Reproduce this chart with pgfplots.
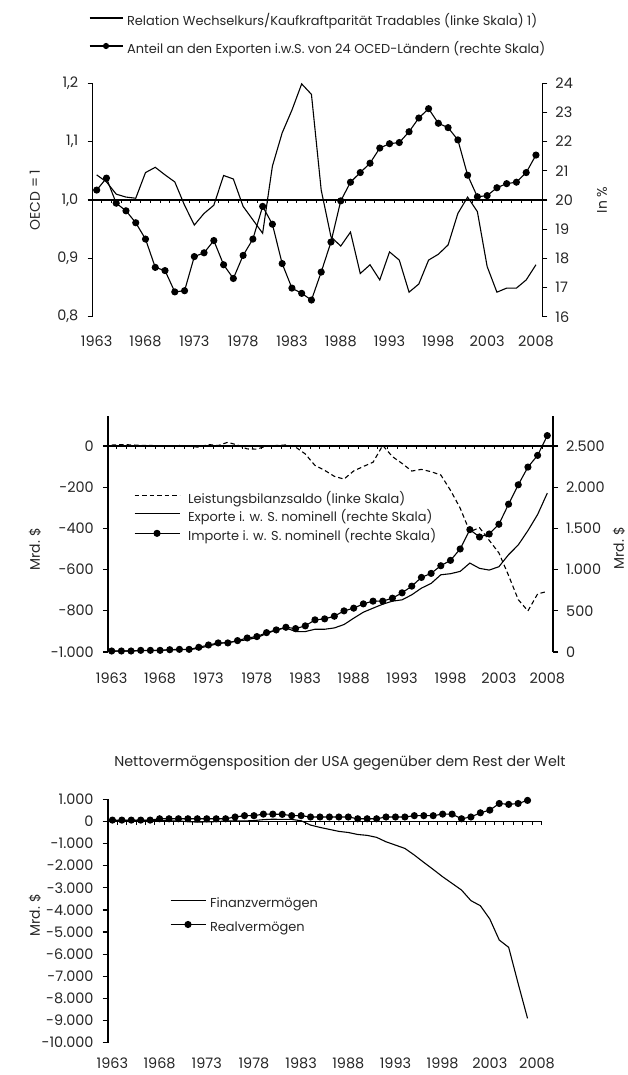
\documentclass[border=0pt]{standalone}
\usepackage{fontspec}
\setmainfont{Poppins}
\usepackage{pgfplots}
\usepackage{pgfplotstable}
\pgfplotsset{compat=1.18}

\pgfplotstableread{
year rel share
1963 1.043 20.34
1964 1.031 20.75
1965 1.010 19.89
1966 1.005 19.63
1967 1.003 19.22
1968 1.047 18.66
1969 1.056 17.69
1970 1.043 17.58
1971 1.031 16.85
1972 0.991 16.89
1973 0.957 18.06
1974 0.977 18.19
1975 0.991 18.61
1976 1.042 17.78
1977 1.036 17.31
1978 0.989 18.10
1979 0.966 18.66
1980 0.943 19.78
1981 1.058 19.17
1982 1.115 17.82
1983 1.154 16.98
1984 1.199 16.80
1985 1.181 16.57
1986 1.017 17.53
1987 0.937 18.56
1988 0.921 19.97
1989 0.945 20.61
1990 0.874 20.94
1991 0.889 21.26
1992 0.863 21.78
1993 0.911 21.93
1994 0.897 21.97
1995 0.842 22.34
1996 0.856 22.81
1997 0.897 23.13
1998 0.907 22.63
1999 0.923 22.48
2000 0.977 22.06
2001 1.005 20.85
2002 0.980 20.11
2003 0.886 20.15
2004 0.842 20.42
2005 0.849 20.56
2006 0.849 20.61
2007 0.863 20.94
2008 0.889 21.54
}\tabA

\pgfplotstableread{
year cab exp imp
1963 4.4 8 12
1964 6.8 12 12
1965 5.4 12 12
1966 3.0 16 20
1967 2.6 16 20
1968 0.6 20 20
1969 0.4 24 28
1970 2.3 28 32
1971 -1.4 28 32
1972 -5.8 45 57
1973 7.1 73 85
1974 2.0 101 110
1975 18.1 118 110
1976 4.3 130 138
1977 -14.3 150 170
1978 -15.1 174 187
1979 -0.3 223 235
1980 2.3 268 268
1981 5.0 292 300
1982 -5.5 248 284
1983 -38.7 248 317
1984 -94.3 276 390
1985 -118.2 276 402
1986 -147.2 292 434
1987 -160.7 333 499
1988 -121.2 410 532
1989 -99.5 483 584
1990 -79.0 532 617
1991 2.9 580 617
1992 -51.6 617 653
1993 -84.8 633 718
1994 -121.6 694 799
1995 -113.6 775 905
1996 -124.8 832 954
1997 -140.7 937 1047
1998 -215.1 950 1112
1999 -301.6 978 1250
2000 -416.3 1079 1485
2001 -396.7 1015 1396
2002 -457.8 994 1432
2003 -519.1 1035 1550
2004 -628.5 1181 1794
2005 -745.8 1299 2029
2006 -800.6 1473 2244
2007 -718.1 1668 2386
2008 -706.0 1928 2626
}\tabB

\pgfplotstableread{
year fin real
1963 30 60
1964 40 60
1965 45 60
1966 40 60
1967 40 60
1968 40 120
1969 30 120
1970 20 120
1971 -10 120
1972 -30 120
1973 -20 120
1974 -10 120
1975 20 120
1976 30 200
1977 20 260
1978 40 260
1979 80 330
1980 100 330
1981 90 320
1982 90 260
1983 30 260
1984 -165 200
1985 -270 200
1986 -360 200
1987 -450 200
1988 -500 200
1989 -590 120
1990 -630 120
1991 -720 120
1992 -920 200
1993 -1070 200
1994 -1220 200
1995 -1520 260
1996 -1850 260
1997 -2170 260
1998 -2500 330
1999 -2800 330
2000 -3100 120
2001 -3580 200
2002 -3810 390
2003 -4410 510
2004 -5360 810
2005 -5690 770
2006 -7320 810
2007 -8900 950
}\tabC

\definecolor{txt}{gray}{0.15}

\pgfplotsset{
  base/.style={
    scale only axis, clip=false, anchor=south west,
    scaled y ticks=false, scaled x ticks=false,
    axis line style={line width=1.6bp, black},
    tick style={line width=1.3bp, black},
    tick align=outside,
    major tick length=5bp,
    ticklabel style={font=\fontsize{14.5}{16}\selectfont, text=txt},
    xtick={1963,1968,...,2008},
    xticklabels={1963,1968,1973,1978,1983,1988,1993,1998,2003,2008},
    xtick style={draw=none},
    xticklabel style={inner sep=0pt, anchor=center},
    legend cell align=left,
  },
  leftax/.style={
    axis x line*=bottom, axis y line*=left, x axis line style={draw=none},
    yticklabel style={inner sep=0pt, xshift=-9bp},
  },
  rightax/.style={
    axis x line=none, axis y line*=right,
    yticklabel style={inner sep=0pt, xshift=8bp},
  },
  dat/.style={black, line width=1.1bp},
  dotdat/.style={black, line width=1.1bp, mark=*, mark size=3bp, mark options={solid, fill=black}},
  leg/.style={legend style={draw=none, fill=none, inner sep=0pt, outer sep=0pt,
     anchor=north west, font=\fontsize{13}{15}\selectfont, text=txt,
     nodes={inner sep=0pt, text height=9bp, text depth=3bp}}},
}

\begin{document}
\begin{tikzpicture}
\path[use as bounding box] (0bp,0bp) rectangle (628bp,1075bp);

% ---------- Panel 1 ----------
\begin{axis}[base, leftax, leg, at={(92.5bp,758.3bp)}, width=449.8bp, height=233.4bp,
  xmin=1962.57, xmax=2008.65, ymin=0.8, ymax=1.2,
  xticklabel style={yshift=-19.5bp},
  ytick={0.8,0.9,1.0,1.1,1.2}, yticklabels={{0,8},{0,9},{1,0},{1,1},{1,2}},
  legend style={at={(-0.0078,1.2862)}, row sep=15bp, column sep=4bp},
  legend image code/.code={\draw[mark repeat=2,mark phase=2,#1] plot coordinates {(0bp,4.5bp) (16.5bp,4.5bp) (33bp,4.5bp)};},
]
\draw[line width=1.6bp] (axis cs:1962.57,1) -- (axis cs:2008.65,1);
\pgfplotsinvokeforeach{1963.5,1964.5,...,2007.5}{\draw[line width=1bp] (axis cs:#1,1) -- ++(0bp,-3.5bp);}
\addplot[dat] table[x=year,y=rel] {\tabA};
\addlegendentry{Relation Wechselkurs/Kaufkraftparität Tradables (linke Skala) 1)}
\addlegendimage{dotdat, mark size=2.5bp}
\addlegendentry{Anteil an den Exporten i.w.S. von 24 OCED-Ländern (rechte Skala)}
\end{axis}
\begin{axis}[base, rightax, at={(92.5bp,758.3bp)}, width=449.8bp, height=233.4bp,
  xmin=1962.57, xmax=2008.65, ymin=16, ymax=24,
  ytick={16,17,...,24}, yticklabels={16,17,18,19,20,21,22,23,24},
]
\addplot[dotdat] table[x=year,y=share] {\tabA};
\end{axis}

% ---------- Panel 2 ----------
\begin{axis}[base, leftax, leg, at={(108bp,423bp)}, width=445bp, height=236bp,
  xmin=1962.62, xmax=2008.59, ymin=-1000, ymax=145.6,
  xticklabel style={yshift=-21bp},
  ytick={-1000,-800,...,0}, yticklabels={-1.000,-800,-600,-400,-200,0},
  legend style={at={(0.0584,0.668)}, row sep=6bp, column sep=8bp},
  legend image code/.code={\draw[mark repeat=2,mark phase=2,#1] plot coordinates {(0bp,4.5bp) (22.5bp,4.5bp) (45bp,4.5bp)};},
]
\draw[line width=1.6bp] (axis cs:1962.62,0) -- (axis cs:2008.59,0);
\pgfplotsinvokeforeach{1963.5,1964.5,...,2007.5}{\draw[line width=1bp] (axis cs:#1,0) -- ++(0bp,-3.5bp);}
\addplot[dat, dash pattern=on 4.5bp off 3bp] table[x=year,y=cab] {\tabB};
\addlegendentry{Leistungsbilanzsaldo (linke Skala)}
\addlegendimage{dat}
\addlegendentry{Exporte i. w. S. nominell (rechte Skala)}
\addlegendimage{dotdat}
\addlegendentry{Importe i. w. S. nominell (rechte Skala)}
\end{axis}
\begin{axis}[base, rightax, at={(108bp,423bp)}, width=445bp, height=236bp,
  xmin=1962.62, xmax=2008.59, ymin=0, ymax=2864,
  ytick={0,500,...,2500}, yticklabels={0,500,1.000,1.500,2.000,2.500},
]
\addplot[dat] table[x=year,y=exp] {\tabB};
\addplot[dotdat] table[x=year,y=imp] {\tabB};
\end{axis}

% ---------- Panel 3 ----------
\begin{axis}[base, leftax, leg, at={(107.7bp,32.3bp)}, width=434bp, height=243.4bp,
  xmin=1962.5, xmax=2008.5, ymin=-10000, ymax=1000,
  xticklabel style={yshift=-15.3bp},
  ytick={-10000,-9000,...,1000},
  yticklabels={-10.000,-9.000,-8.000,-7.000,-6.000,-5.000,-4.000,-3.000,-2.000,-1.000,0,1.000},
  legend style={at={(0.1435,0.5912)}, row sep=10.7bp, column sep=4bp},
  legend image code/.code={\draw[mark repeat=2,mark phase=2,#1] plot coordinates {(0bp,4.5bp) (17.5bp,4.5bp) (35bp,4.5bp)};},
]
\draw[line width=1.6bp] (axis cs:1962.5,0) -- (axis cs:2008.5,0);
\pgfplotsinvokeforeach{1963.5,1964.5,...,2008.5}{\draw[line width=1bp] (axis cs:#1,0) -- ++(0bp,-3.5bp);}
\addplot[dat] table[x=year,y=fin] {\tabC};
\addlegendentry{Finanzvermögen}
\addplot[dotdat] table[x=year,y=real] {\tabC};
\addlegendentry{Realvermögen}
\end{axis}

% ---------- Labels ----------
\begin{scope}[every node/.style={text=txt, font=\fontsize{14}{16}\selectfont}]
\node[rotate=90] at (35bp,875bp) {OECD = 1};
\node[rotate=90] at (602bp,875bp) {In \%};
\node[rotate=90] at (35bp,526bp) {Mrd. \$};
\node[rotate=90] at (619bp,527bp) {Mrd. \$};
\node[rotate=90] at (35bp,160bp) {Mrd. \$};
\node[font=\fontsize{14.3}{16}\selectfont] at (340bp,312bp) {Nettovermögensposition der USA gegenüber dem Rest der Welt};
\end{scope}
\end{tikzpicture}
\end{document}
